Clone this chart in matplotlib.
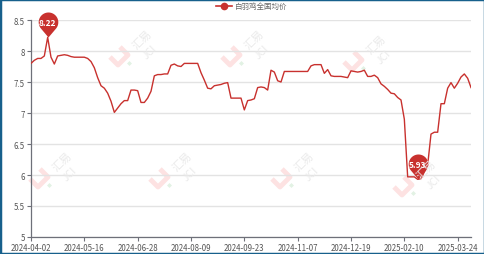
import numpy as np
import matplotlib
matplotlib.use("Agg")
import matplotlib.pyplot as plt
from matplotlib.path import Path
from matplotlib.lines import Line2D
from matplotlib.patches import Rectangle

plt.rcParams['font.family'] = ['Noto Sans CJK SC', 'DejaVu Sans']

# 白羽鸡全国均价 (元/公斤), one point per trading-day step
prices = [
    7.80, 7.85, 7.88, 7.88, 7.92, 8.22, 7.90, 7.79, 7.92, 7.93,
    7.94, 7.93, 7.91, 7.90, 7.90, 7.90, 7.90, 7.88, 7.83, 7.73,
    7.57, 7.44, 7.40, 7.32, 7.19, 7.01, 7.08, 7.15, 7.20, 7.20,
    7.37, 7.37, 7.36, 7.17, 7.17, 7.24, 7.35, 7.60, 7.62, 7.62,
    7.63, 7.63, 7.77, 7.79, 7.76, 7.75, 7.80, 7.80, 7.80, 7.80,
    7.80, 7.65, 7.53, 7.40, 7.39, 7.44, 7.45, 7.46, 7.48, 7.49,
    7.24, 7.24, 7.24, 7.24, 7.05, 7.20, 7.21, 7.23, 7.41, 7.42,
    7.41, 7.37, 7.69, 7.66, 7.52, 7.50, 7.67, 7.67, 7.67, 7.67,
    7.67, 7.67, 7.67, 7.67, 7.76, 7.78, 7.78, 7.78, 7.64, 7.70,
    7.60, 7.59, 7.59, 7.59, 7.58, 7.57, 7.68, 7.67, 7.66, 7.67,
    7.69, 7.59, 7.59, 7.61, 7.57, 7.47, 7.43, 7.38, 7.32, 7.31,
    7.25, 7.21, 6.90, 5.97, 5.97, 5.97, 5.93, 5.94, 6.05, 6.16,
    6.66, 6.69, 6.69, 7.15, 7.15, 7.40, 7.49, 7.40, 7.48, 7.58,
    7.63, 7.56, 7.41,
]
tick_dates = ['2024-04-02', '2024-05-16', '2024-06-28', '2024-08-09',
              '2024-09-23', '2024-11-07', '2024-12-19', '2025-02-10',
              '2025-03-24']
tick_step = 16
y_ticks = [5, 5.5, 6, 6.5, 7, 7.5, 8, 8.5]
series_name = '白羽鸡全国均价'

red = '#c8312e'
grid_c = '#e3e3e3'
axis_c = '#6e7079'
label_c = '#555555'

x = np.arange(len(prices))

fig = plt.figure(figsize=(4.85, 2.55), dpi=100)
ax = fig.add_axes([31 / 485, 1 - 238 / 255, 440 / 485, 217 / 255])

# faint "汇易 JCI" watermarks, logo rotated 45 degrees
W, H = 485, 255
marks = [(138, 50), (250, 50), (372, 55), (58, 172), (178, 172), (300, 172), (422, 180)]
for mx, my in marks:
    fig.text((mx + 4) / W, 1 - (my - 10) / H, '汇易', rotation=45, fontsize=8,
             color='#eaeaea', ha='center', va='center', zorder=0)
    fig.text((mx + 12) / W, 1 - (my + 2) / H, 'JCI', rotation=45, fontsize=7.5,
             color='#eaeaea', ha='center', va='center', zorder=0)
    cx, cy = mx - 14, my + 12
    fig.add_artist(Line2D([(cx - 4) / W, (cx + 4) / W, (cx - 6) / W, (cx - 14) / W],
                          [1 - (cy - 14) / H, 1 - (cy - 6) / H, 1 - (cy + 4) / H, 1 - (cy - 4) / H],
                          color='#fde2e2', lw=3.5, solid_capstyle='butt', zorder=0))
    fig.add_artist(Line2D([(cx + 5) / W], [1 - (cy + 2) / H], marker='D', ms=2.5,
                          color='#e2f2e4', mew=0, zorder=0))

ax.set_facecolor('none')
ax.plot(x, prices, color=red, lw=1.0, zorder=3)

ax.set_xlim(0, len(prices) - 1)
ax.set_ylim(5, 8.5)
ax.set_yticks(y_ticks)
ax.set_yticklabels([f'{v:g}' for v in y_ticks])
ax.set_xticks(np.arange(len(tick_dates)) * tick_step)
ax.set_xticklabels(tick_dates)

ax.grid(axis='y', color=grid_c, lw=1)
ax.set_axisbelow(True)
for s in ['top', 'right']:
    ax.spines[s].set_visible(False)
for s in ['left', 'bottom']:
    ax.spines[s].set_color(axis_c)
    ax.spines[s].set_linewidth(0.9)
ax.tick_params(axis='both', colors=axis_c, labelcolor=label_c, labelsize=5.7,
               length=3, width=0.8, pad=1.5)

# pin markers for max / min
theta = np.linspace(np.radians(-40.2), np.radians(220.2), 60)
c = 1.55
verts = np.column_stack([np.cos(theta), c + np.sin(theta)])
verts = np.vstack([verts, [[0, 0]], verts[:1]])
codes = [Path.MOVETO] + [Path.LINETO] * (len(verts) - 2) + [Path.CLOSEPOLY]
pin = Path(verts, codes)

i_max = int(np.argmax(prices))
i_min = int(np.argmin(prices))
for i in (i_max, i_min):
    ax.plot(x[i], prices[i], marker=pin, ms=36, color=red, mew=0, zorder=5,
            clip_on=False)
    ax.annotate(f'{prices[i]:.2f}', (x[i], prices[i]), xytext=(0, 11),
                textcoords='offset points', ha='center', va='center',
                color='white', fontsize=6, fontweight='bold', zorder=6)

# legend
fig.add_artist(Line2D([216 / W, 232 / W], [1 - 7 / H, 1 - 7 / H], color=red, lw=1.2))
fig.add_artist(Line2D([224 / W], [1 - 7 / H], color=red, marker='o', ms=5.5, mew=0))
fig.text(235 / W, 1 - 7 / H, series_name, fontsize=5.4, color='#666666',
         ha='left', va='center')

# outer frame
fig.add_artist(Rectangle((0, 0), 1, 1, transform=fig.transFigure, fill=False,
                         edgecolor='#17608c', lw=2.5))

fig.savefig('out.png', dpi=100)
